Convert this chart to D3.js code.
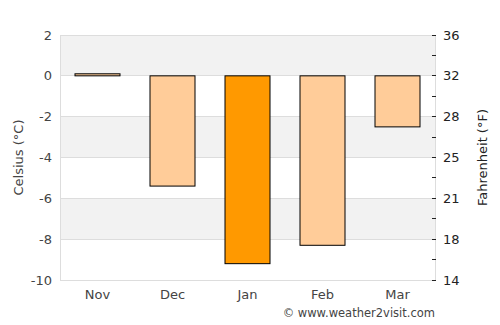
<!DOCTYPE html>
<html>
<head>
<meta charset="utf-8">
<script src="https://cdn.jsdelivr.net/npm/d3@7"></script>
<style>
  body { margin: 0; background: #fff; }
  svg { font-family: "DejaVu Sans", sans-serif; }
</style>
</head>
<body>
<svg id="chart" width="500" height="325"></svg>
<script>
const months = ["Nov", "Dec", "Jan", "Feb", "Mar"];
const celsius = [0.1, -5.4, -9.2, -8.3, -2.5];
const highlight = ["Jan"];
const cTicks = [2, 0, -2, -4, -6, -8, -10];
const fLabels = ["36", "32", "28", "25", "21", "18", "14"];

const margin = { top: 35, right: 65, bottom: 45, left: 60 };
const W = 500, H = 325;
const width = W - margin.left - margin.right;
const height = H - margin.top - margin.bottom;

const svg = d3.select("#chart");
const g = svg.append("g").attr("transform", `translate(${margin.left},${margin.top})`);

const x = d3.scaleBand().domain(months).range([0, width]).paddingInner(0.4).paddingOuter(0.2);
const y = d3.scaleLinear().domain([-10, 2]).range([height, 0]);

// alternating bands
for (let i = 0; i < cTicks.length - 1; i += 2) {
    g.append("rect")
        .attr("x", 0).attr("width", width)
        .attr("y", y(cTicks[i])).attr("height", y(cTicks[i + 1]) - y(cTicks[i]))
        .attr("fill", "#f2f2f2");
}

// gridlines
g.selectAll(".grid").data(cTicks).enter().append("line")
    .attr("x1", 0).attr("x2", width)
    .attr("y1", d => y(d)).attr("y2", d => y(d))
    .attr("stroke", "#dddddd").attr("shape-rendering", "crispEdges");

// borders left/right
g.append("line").attr("x1", 0).attr("x2", 0).attr("y1", 0).attr("y2", height)
    .attr("stroke", "#dddddd").attr("shape-rendering", "crispEdges");
g.append("line").attr("x1", width).attr("x2", width).attr("y1", 0).attr("y2", height)
    .attr("stroke", "#dddddd").attr("shape-rendering", "crispEdges");

// bars
g.selectAll(".bar").data(months).enter().append("rect")
    .attr("x", d => x(d))
    .attr("width", x.bandwidth())
    .attr("y", (d, i) => y(Math.max(0, celsius[i])))
    .attr("height", (d, i) => Math.abs(y(celsius[i]) - y(0)))
    .attr("fill", d => highlight.includes(d) ? "#ff9900" : "#ffcc99")
    .attr("stroke", "#000").attr("stroke-width", 1);

// left axis labels
g.selectAll(".ly").data(cTicks).enter().append("text")
    .attr("x", -8).attr("y", d => y(d)).attr("dy", "0.35em")
    .attr("text-anchor", "end")
    .attr("font-size", 13).attr("fill", "#444")
    .text(d => d);

// right axis ticks and labels
const minor = d3.range(-9, 2, 2);
g.selectAll(".rt").data(cTicks.concat(minor)).enter().append("line")
    .attr("x1", width - 3).attr("x2", width + 1)
    .attr("y1", d => y(d)).attr("y2", d => y(d))
    .attr("stroke", "#222").attr("shape-rendering", "crispEdges");
g.selectAll(".ry").data(cTicks).enter().append("text")
    .attr("x", width + 8).attr("y", d => y(d)).attr("dy", "0.35em")
    .attr("font-size", 13).attr("fill", "#222")
    .text((d, i) => fLabels[i]);

// x labels
g.selectAll(".xl").data(months).enter().append("text")
    .attr("x", d => x(d) + x.bandwidth() / 2).attr("y", height + 19)
    .attr("text-anchor", "middle")
    .attr("font-size", 13).attr("fill", "#444")
    .text(d => d);

// axis titles
svg.append("text")
    .attr("transform", `translate(23,${margin.top + height / 2}) rotate(-90)`)
    .attr("text-anchor", "middle").attr("font-size", 13).attr("fill", "#444")
    .text("Celsius (°C)");
svg.append("text")
    .attr("transform", `translate(487,${margin.top + height / 2}) rotate(-90)`)
    .attr("text-anchor", "middle").attr("font-size", 13).attr("fill", "#222")
    .text("Fahrenheit (°F)");

svg.append("text")
    .attr("x", margin.left + width).attr("y", 317)
    .attr("text-anchor", "end").attr("font-size", 11.5).attr("fill", "#444")
    .text("© www.weather2visit.com");
</script>
</body>
</html>
